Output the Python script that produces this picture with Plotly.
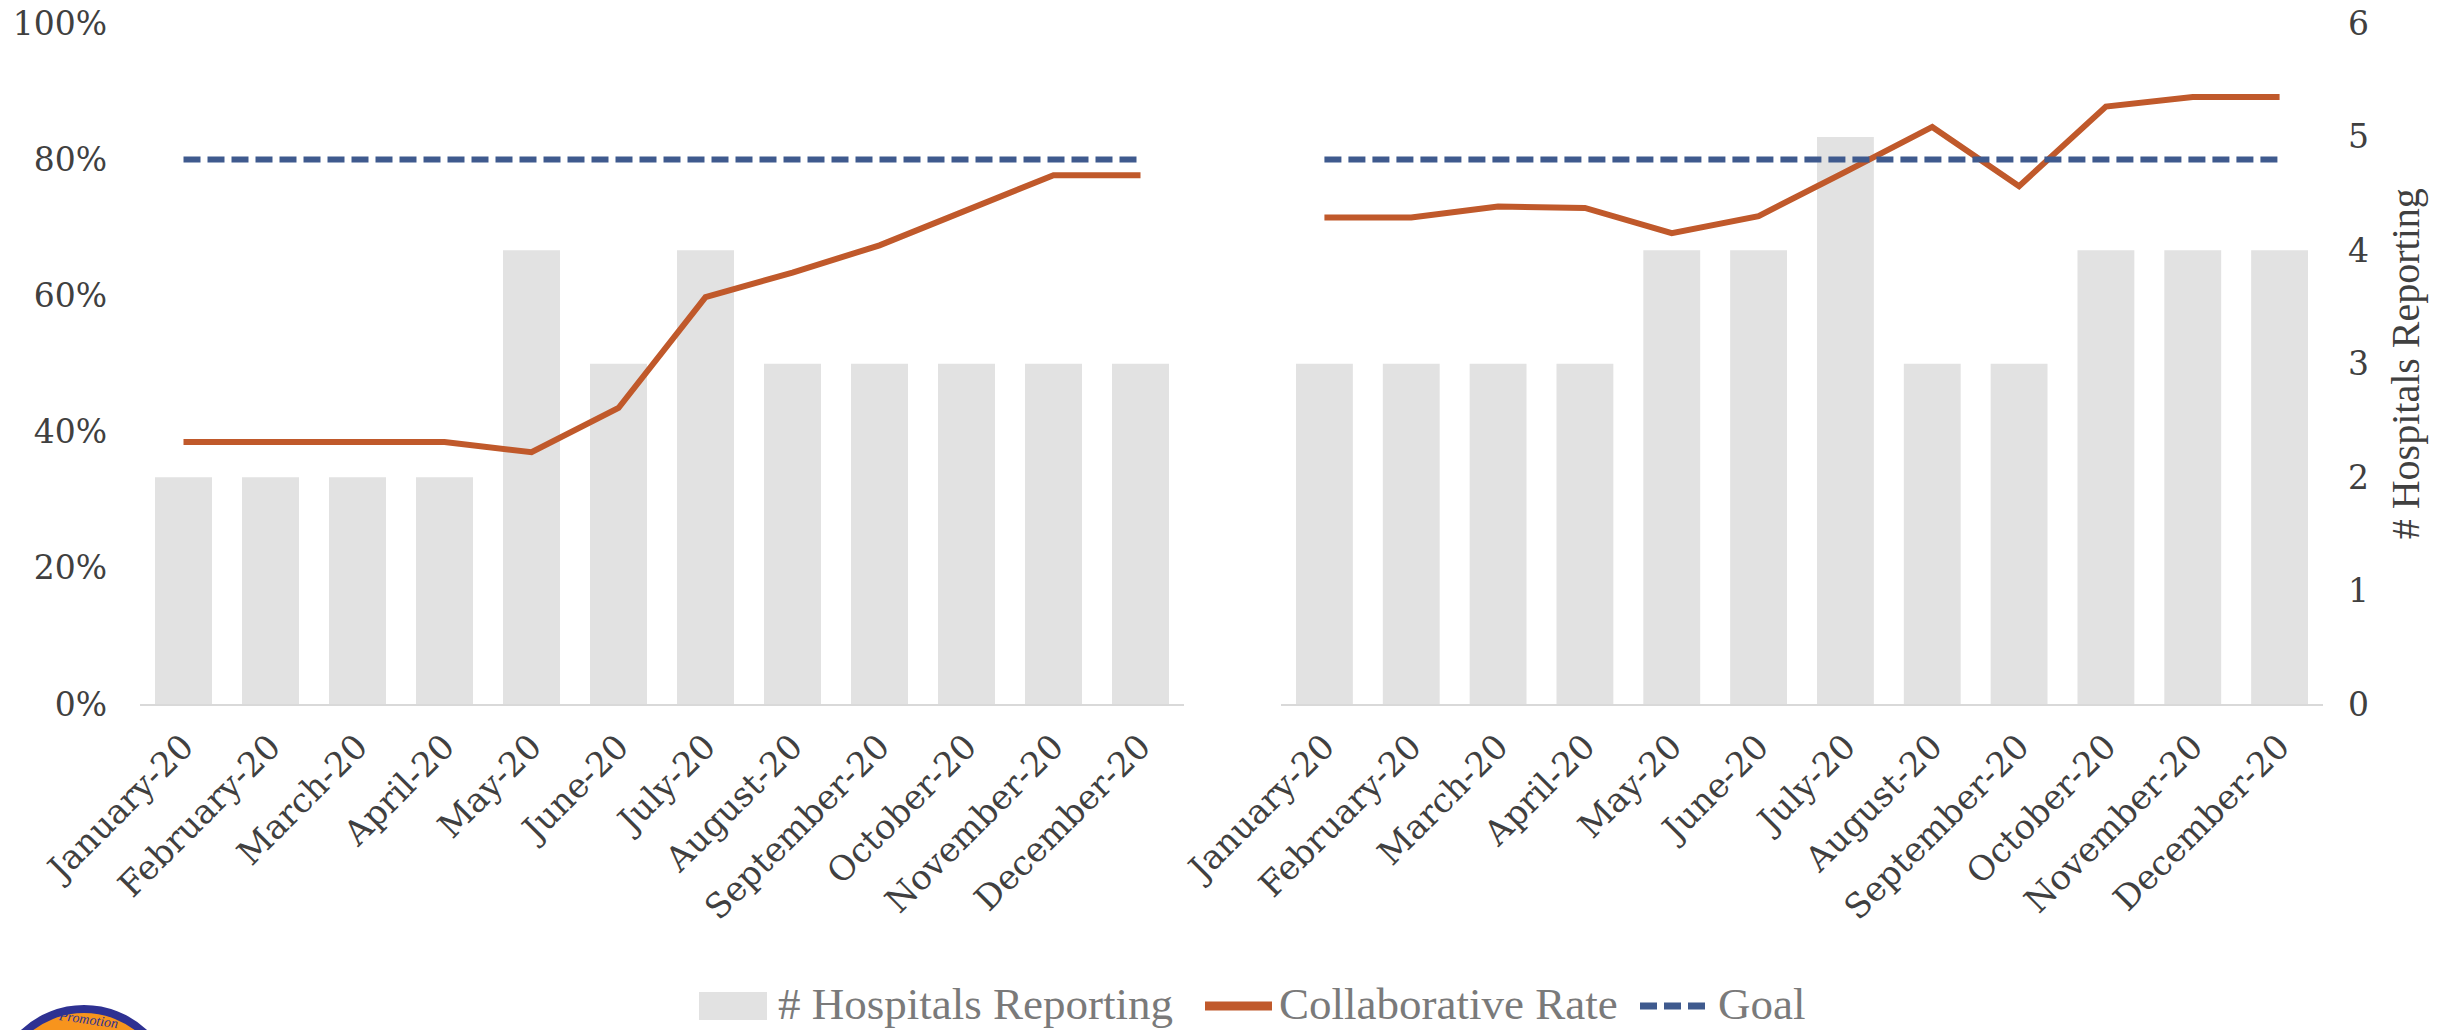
import plotly.graph_objects as go

# Months shared by both panels
months = ["January-20", "February-20", "March-20", "April-20", "May-20", "June-20",
          "July-20", "August-20", "September-20", "October-20", "November-20", "December-20"]

# Left panel
hospitals_left = [2, 2, 2, 2, 4, 3, 4, 3, 3, 3, 3, 3]
rate_left = [0.385, 0.385, 0.385, 0.385, 0.37, 0.435, 0.598, 0.634, 0.674, 0.726, 0.777, 0.777]

# Right panel
hospitals_right = [3, 3, 3, 3, 4, 4, 5, 3, 3, 4, 4, 4]
rate_right = [0.715, 0.715, 0.731, 0.729, 0.692, 0.717, 0.782, 0.848, 0.761, 0.878, 0.892, 0.892]

goal = [0.80, 0.80, 0.80, 0.80, 0.80, 0.80, 0.80, 0.80, 0.80, 0.80, 0.80, 0.80]

pct_ticks = [0, 0.2, 0.4, 0.6, 0.8, 1.0]
pct_labels = ["0%", "20%", "40%", "60%", "80%", "100%"]
count_ticks = [0, 1, 2, 3, 4, 5, 6]

BAR = "#E2E2E2"
RATE = "#C0592B"
GOAL = "#3F5A8E"
TEXT = "#404040"
LEGEND_TEXT = "#7A7A7A"
AXIS = "#D9D9D9"
FONT = "DejaVu Serif"
W, H = 2456, 1030
GOAL_DASH = "17px,7px"


def px(x):
    return x / W


def py(y):
    return (H - y) / H


fig = go.Figure()

# ---- left panel ----
fig.add_trace(go.Bar(x=months, y=hospitals_left, name="# Hospitals Reporting",
                     marker=dict(color=BAR, line=dict(width=0)),
                     xaxis="x", yaxis="y"))
fig.add_trace(go.Scatter(x=months, y=rate_left, name="Collaborative Rate", mode="lines",
                         line=dict(color=RATE, width=6),
                         xaxis="x", yaxis="y2"))
fig.add_trace(go.Scatter(x=months, y=goal, name="Goal", mode="lines",
                         line=dict(color=GOAL, width=6, dash=GOAL_DASH),
                         xaxis="x", yaxis="y2"))

# ---- right panel ----
fig.add_trace(go.Bar(x=months, y=hospitals_right, name="# Hospitals Reporting",
                     marker=dict(color=BAR, line=dict(width=0)),
                     xaxis="x2", yaxis="y3"))
fig.add_trace(go.Scatter(x=months, y=rate_right, name="Collaborative Rate", mode="lines",
                         line=dict(color=RATE, width=6),
                         xaxis="x2", yaxis="y4"))
fig.add_trace(go.Scatter(x=months, y=goal, name="Goal", mode="lines",
                         line=dict(color=GOAL, width=6, dash=GOAL_DASH),
                         xaxis="x2", yaxis="y4"))

ydom = [py(704), py(23.5)]
xcommon = dict(type="category", showgrid=False, zeroline=False, showline=True,
               linecolor=AXIS, linewidth=2, ticks="", tickangle=-45, automargin=False,
               tickfont=dict(family=FONT, size=34, color=TEXT), ticklabelstandoff=7)

fig.update_layout(
    width=W, height=H,
    margin=dict(l=0, r=0, t=0, b=0, autoexpand=False),
    paper_bgcolor="white", plot_bgcolor="white",
    bargap=0.345,
    showlegend=False,
    font=dict(family=FONT, color=TEXT),
    xaxis=dict(domain=[px(140), px(1184)], anchor="y", **xcommon),
    yaxis=dict(domain=ydom, range=[0, 6], anchor="x", showticklabels=False,
               showgrid=False, zeroline=False, showline=False, automargin=False),
    yaxis2=dict(overlaying="y", side="left", anchor="x", range=[0, 1],
                tickvals=pct_ticks, ticktext=pct_labels, showgrid=False,
                zeroline=False, showline=False, ticks="", automargin=False,
                tickfont=dict(family=FONT, size=33, color=TEXT), ticklabelstandoff=32),
    xaxis2=dict(domain=[px(1281), px(2323)], anchor="y3", **xcommon),
    yaxis3=dict(domain=ydom, range=[0, 6], anchor="x2", side="right",
                tickvals=count_ticks, showgrid=False, zeroline=False, showline=False,
                ticks="", automargin=False,
                tickfont=dict(family=FONT, size=33, color=TEXT),
                ticklabelstandoff=24,
                title=dict(text="# Hospitals Reporting", standoff=22,
                           font=dict(family="Liberation Serif", size=40, color=TEXT))),
    yaxis4=dict(overlaying="y3", anchor="x2", range=[0, 1], visible=False),
)

# ---- legend row along the bottom edge ----
legend_mid = 1006
fig.add_shape(type="rect", xref="paper", yref="paper",
              x0=px(699), x1=px(767), y0=py(1020), y1=py(992),
              fillcolor=BAR, line=dict(width=0))
fig.add_shape(type="line", xref="paper", yref="paper",
              x0=px(1205), x1=px(1272), y0=py(legend_mid), y1=py(legend_mid),
              line=dict(color=RATE, width=9))
fig.add_shape(type="line", xref="paper", yref="paper",
              x0=px(1640), x1=px(1705), y0=py(legend_mid), y1=py(legend_mid),
              line=dict(color=GOAL, width=7, dash=GOAL_DASH))
for label, x_left in [("# Hospitals Reporting", 777), ("Collaborative Rate", 1278), ("Goal", 1717)]:
    fig.add_annotation(text=label, xref="paper", yref="paper", x=px(x_left), y=py(1004),
                       xanchor="left", yanchor="middle", showarrow=False, borderpad=0,
                       font=dict(family="Liberation Serif", size=45, color=LEGEND_TEXT))

# Logo badge in the lower-left corner
fig.add_shape(type="circle", xref="paper", yref="paper",
              x0=px(-4), x1=px(172), y0=py(1185), y1=py(1009),
              fillcolor="#F7941D", line=dict(color="#2E3192", width=8), layer="above")
fig.add_annotation(text="<i>Promotion</i>", xref="paper", yref="paper",
                   x=px(88), y=py(1019), showarrow=False, textangle=8,
                   yanchor="middle", xanchor="center", borderpad=0,
                   font=dict(family="Liberation Serif", size=14, color="#2E3192"))

fig.write_html("out.html")
